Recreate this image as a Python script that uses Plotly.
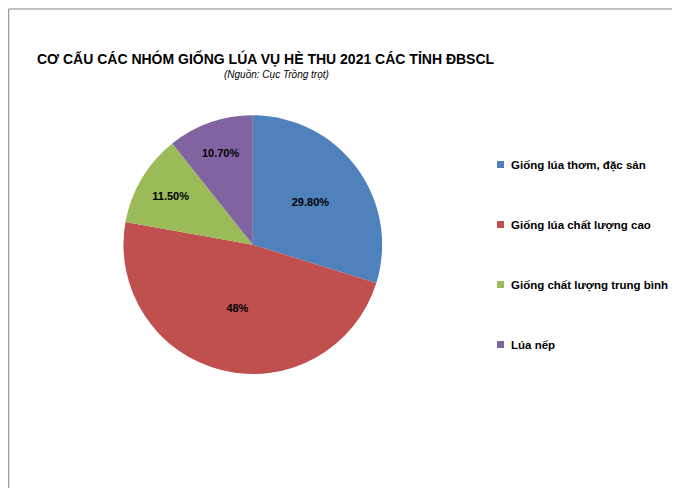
import plotly.graph_objects as go

labels = ["Giống lúa thơm, đặc sản", "Giống lúa chất lượng cao", "Giống chất lượng trung bình", "Lúa nếp"]
values = [29.8, 48, 11.5, 10.7]
texts = ["29.80%", "48%", "11.50%", "10.70%"]
colors = ["#4F81BD", "#C0504D", "#9BBB59", "#8064A2"]

fig = go.Figure(go.Pie(
    labels=labels, values=values, text=texts, textinfo="text",
    textposition="inside", insidetextorientation="horizontal",
    sort=False, direction="clockwise", rotation=0, showlegend=False,
    marker=dict(colors=colors, line=dict(color="white", width=0)),
    textfont=dict(family="Liberation Sans", size=11, color="black", weight="bold"),
    domain=dict(x=[0.05, 0.67], y=[0.25, 0.78]),
))
anns = [
    dict(text="<b>CƠ CẤU CÁC NHÓM GIỐNG LÚA VỤ HÈ THU 2021 CÁC TỈNH ĐBSCL</b>", x=258, y=50,
         showarrow=False, font=dict(size=14, color="black")),
    dict(text="<i>(Nguồn: Cục Trồng trọt)</i>", x=268, y=66,
         showarrow=False, font=dict(size=10, color="black")),
]
shapes = [dict(type="rect", xref="paper", yref="paper", x0=0.001, y0=0.002, x1=0.997, y1=0.998,
               line=dict(color="#888888", width=1))]
for i, (lab, col) in enumerate(zip(labels, colors)):
    y = 157 + 60 * i
    shapes.append(dict(type="rect", xref="x", yref="y", x0=489, x1=496, y0=y - 4, y1=y + 3,
                       fillcolor=col, line=dict(width=0)))
    anns.append(dict(text="<b>" + lab + "</b>", x=501, y=y, xanchor="left", showarrow=False,
                     font=dict(size=11.5, color="black")))
for a in anns:
    a.update(xref="x", yref="y")
fig.update_layout(
    width=680, height=488, paper_bgcolor="white", plot_bgcolor="rgba(0,0,0,0)",
    margin=dict(l=0, r=0, t=0, b=0),
    font=dict(family="Liberation Sans"),
    xaxis=dict(range=[0, 680], visible=False, fixedrange=True),
    yaxis=dict(range=[488, 0], visible=False, fixedrange=True),
    annotations=anns, shapes=shapes,
)
fig.write_html("out.html")
